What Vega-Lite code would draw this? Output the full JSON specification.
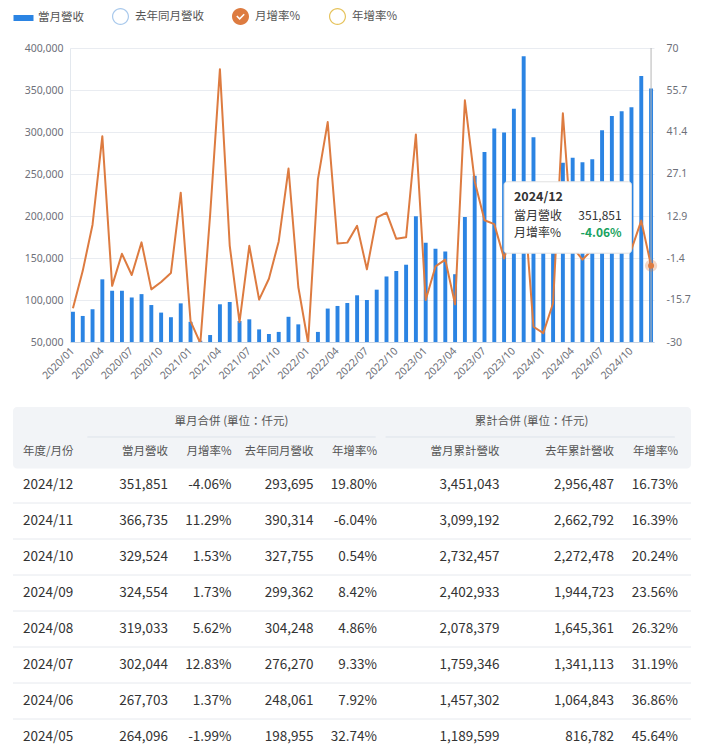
{
  "$schema": "https://vega.github.io/schema/vega-lite/v6.json",
  "background": "white",
  "padding": {"left": 12, "top": 8, "right": 0, "bottom": 0},
  "spacing": 25,
  "config": {
    "view": {"stroke": null},
    "font": "Noto Sans CJK TC",
    "locale": {"number": {"decimal": ".", "thousands": ",", "grouping": [3], "currency": ["$", ""], "minus": "-"}},
    "axis": {"labelFont": "Noto Sans", "labelFontSize": 10.5, "labelColor": "#6e7079"},
    "text": {"font": "Noto Sans CJK TC"}
  },
  "datasets": {
    "monthly": [
      {"month": "2020/01", "rev": 86000, "mom": -18.5},
      {"month": "2020/02", "rev": 81000, "mom": -5.8},
      {"month": "2020/03", "rev": 89000, "mom": 9.9},
      {"month": "2020/04", "rev": 124600, "mom": 40.0},
      {"month": "2020/05", "rev": 111000, "mom": -10.9},
      {"month": "2020/06", "rev": 111000, "mom": 0.0},
      {"month": "2020/07", "rev": 103000, "mom": -7.2},
      {"month": "2020/08", "rev": 107000, "mom": 3.9},
      {"month": "2020/09", "rev": 94000, "mom": -12.1},
      {"month": "2020/10", "rev": 85000, "mom": -9.6},
      {"month": "2020/11", "rev": 79500, "mom": -6.5},
      {"month": "2020/12", "rev": 96000, "mom": 20.8},
      {"month": "2021/01", "rev": 74000, "mom": -22.9},
      {"month": "2021/02", "rev": 51500, "mom": -30.4},
      {"month": "2021/03", "rev": 58300, "mom": 13.2},
      {"month": "2021/04", "rev": 94900, "mom": 62.8},
      {"month": "2021/05", "rev": 97600, "mom": 2.8},
      {"month": "2021/06", "rev": 75000, "mom": -23.2},
      {"month": "2021/07", "rev": 77000, "mom": 2.7},
      {"month": "2021/08", "rev": 65000, "mom": -15.6},
      {"month": "2021/09", "rev": 59500, "mom": -8.5},
      {"month": "2021/10", "rev": 62000, "mom": 4.2},
      {"month": "2021/11", "rev": 80000, "mom": 29.0},
      {"month": "2021/12", "rev": 71000, "mom": -11.3},
      {"month": "2022/01", "rev": 49500, "mom": -30.3},
      {"month": "2022/02", "rev": 62000, "mom": 25.3},
      {"month": "2022/03", "rev": 89800, "mom": 44.8},
      {"month": "2022/04", "rev": 92900, "mom": 3.5},
      {"month": "2022/05", "rev": 96400, "mom": 3.8},
      {"month": "2022/06", "rev": 105600, "mom": 9.5},
      {"month": "2022/07", "rev": 100000, "mom": -5.3},
      {"month": "2022/08", "rev": 112300, "mom": 12.3},
      {"month": "2022/09", "rev": 128000, "mom": 14.0},
      {"month": "2022/10", "rev": 134500, "mom": 5.1},
      {"month": "2022/11", "rev": 142000, "mom": 5.6},
      {"month": "2022/12", "rev": 199600, "mom": 40.6},
      {"month": "2023/01", "rev": 168300, "mom": -15.7},
      {"month": "2023/02", "rev": 161000, "mom": -4.3},
      {"month": "2023/03", "rev": 157800, "mom": -2.0},
      {"month": "2023/04", "rev": 130700, "mom": -17.2},
      {"month": "2023/05", "rev": 198955, "mom": 52.2},
      {"month": "2023/06", "rev": 248061, "mom": 24.7},
      {"month": "2023/07", "rev": 276270, "mom": 11.4},
      {"month": "2023/08", "rev": 304248, "mom": 10.1},
      {"month": "2023/09", "rev": 299362, "mom": -1.6},
      {"month": "2023/10", "rev": 327755, "mom": 9.5},
      {"month": "2023/11", "rev": 390314, "mom": 19.1},
      {"month": "2023/12", "rev": 293695, "mom": -24.8},
      {"month": "2024/01", "rev": 214300, "mom": -27.0},
      {"month": "2024/02", "rev": 178300, "mom": -16.8},
      {"month": "2024/03", "rev": 263445, "mom": 47.8},
      {"month": "2024/04", "rev": 269458, "mom": 2.3},
      {"month": "2024/05", "rev": 264096, "mom": -1.99},
      {"month": "2024/06", "rev": 267703, "mom": 1.37},
      {"month": "2024/07", "rev": 302044, "mom": 12.83},
      {"month": "2024/08", "rev": 319033, "mom": 5.62},
      {"month": "2024/09", "rev": 324554, "mom": 1.73},
      {"month": "2024/10", "rev": 329524, "mom": 1.53},
      {"month": "2024/11", "rev": 366735, "mom": 11.29},
      {"month": "2024/12", "rev": 351851, "mom": -4.06}
    ],
    "table": [
      {"r": 0, "month": "2024/12", "rev": 351851, "mom": -0.0406, "prev": 293695, "yoy": 0.198, "cum": 3451043, "prevcum": 2956487, "cumyoy": 0.1673},
      {"r": 1, "month": "2024/11", "rev": 366735, "mom": 0.1129, "prev": 390314, "yoy": -0.0604, "cum": 3099192, "prevcum": 2662792, "cumyoy": 0.1639},
      {"r": 2, "month": "2024/10", "rev": 329524, "mom": 0.0153, "prev": 327755, "yoy": 0.0054, "cum": 2732457, "prevcum": 2272478, "cumyoy": 0.2024},
      {"r": 3, "month": "2024/09", "rev": 324554, "mom": 0.0173, "prev": 299362, "yoy": 0.0842, "cum": 2402933, "prevcum": 1944723, "cumyoy": 0.2356},
      {"r": 4, "month": "2024/08", "rev": 319033, "mom": 0.0562, "prev": 304248, "yoy": 0.0486, "cum": 2078379, "prevcum": 1645361, "cumyoy": 0.2632},
      {"r": 5, "month": "2024/07", "rev": 302044, "mom": 0.1283, "prev": 276270, "yoy": 0.0933, "cum": 1759346, "prevcum": 1341113, "cumyoy": 0.3119},
      {"r": 6, "month": "2024/06", "rev": 267703, "mom": 0.0137, "prev": 248061, "yoy": 0.0792, "cum": 1457302, "prevcum": 1064843, "cumyoy": 0.3686},
      {"r": 7, "month": "2024/05", "rev": 264096, "mom": -0.0199, "prev": 198955, "yoy": 0.3274, "cum": 1189599, "prevcum": 816782, "cumyoy": 0.4564}
    ]
  },
  "vconcat": [
    {
      "width": 584,
      "height": 294,
      "data": {"name": "monthly"},
      "resolve": {"scale": {"y": "independent"}},
      "layer": [
        {
          "mark": {"type": "bar", "clip": true},
          "encoding": {
            "x": {
              "field": "month", "type": "ordinal", "title": null,
              "scale": {"paddingInner": 0.6, "paddingOuter": 0.1},
              "axis": {
                "values": ["2020/01","2020/04","2020/07","2020/10","2021/01","2021/04","2021/07","2021/10","2022/01","2022/04","2022/07","2022/10","2023/01","2023/04","2023/07","2023/10","2024/01","2024/04","2024/07","2024/10"],
                "labelAngle": -45, "labelAlign": "right", "labelBaseline": "middle", "labelPadding": 7,
                "labelColor": "#6e7079", "labelFont": "Noto Sans", "labelFontSize": 10.5,
                "ticks": false, "domainColor": "#c8d4e3", "grid": false
              }
            },
            "y": {
              "field": "rev", "type": "quantitative", "title": null,
              "scale": {"domain": [50000, 400000], "zero": false, "nice": false},
              "axis": {
                "values": [50000,100000,150000,200000,250000,300000,350000,400000],
                "format": ",d", "ticks": false, "domain": true, "domainColor": "#e3e8ee",
                "labelColor": "#6e7079",
                "labelPadding": 7, "grid": true, "gridColor": "#e9ecf1",
                "minExtent": 57, "maxExtent": 57
              }
            },
            "color": {
              "datum": "當月營收", "type": "nominal",
              "scale": {"domain": ["當月營收","去年同月營收","月增率%","年增率%"], "range": ["#2b84e3","#a9c9ec","#dd7b40","#e6c35c"]},
              "legend": {
                "orient": "none", "legendX": -55, "legendY": -40, "direction": "horizontal", "title": null,
                "symbolSize": 400, "labelOffset": 6, "columnPadding": 28,
                "labelFont": "Noto Sans CJK TC", "labelFontSize": 11.5, "labelColor": "#555",
                "encode": {
                  "symbols": {
                    "update": {
                      "shape": {"signal": "datum.value === '當月營收' ? 'M-1,-0.3H1V0.3H-1Z' : (datum.value === '月增率%' ? 'M-1,0A1,1,0,1,1,1,0A1,1,0,1,1,-1,0Z M-0.5,0L-0.1,0.4L0.5,-0.2L0.37,-0.33L-0.1,0.14L-0.37,-0.13Z' : 'M-1,0A1,1,0,1,1,1,0A1,1,0,1,1,-1,0Z M-0.86,0A0.86,0.86,0,1,0,0.86,0A0.86,0.86,0,1,0,-0.86,0Z')"},
                      "size": {"signal": "datum.value === '當月營收' ? 400 : 289"},
                      "stroke": {"value": "transparent"},
                      "strokeWidth": {"value": 0},
                      "opacity": {"value": 1}
                    }
                  }
                }
              }
            }
          }
        },
        {
          "layer": [
            {
              "mark": {"type": "line", "clip": true, "strokeWidth": 2, "strokeJoin": "round"},
              "encoding": {
                "x": {"field": "month", "type": "ordinal", "title": null},
                "y": {
                  "field": "mom", "type": "quantitative", "title": null,
                  "scale": {"domain": [-30, 70], "zero": false, "nice": false},
                  "axis": {
                    "orient": "right",
                    "values": [-30, -15.714, -1.429, 12.857, 27.143, 41.429, 55.714, 70],
                    "labelExpr": "round(datum.value*10)/10",
                    "labelColor": "#6e7079",
                    "ticks": false, "domain": false, "grid": false, "labelPadding": 12, "labelAlign": "left"
                  }
                },
                "color": {"datum": "月增率%", "type": "nominal"}
              }
            },
            {
              "data": {"values": [{}]},
              "mark": {"type": "rule", "color": "#b5b5b5", "strokeWidth": 1},
              "encoding": {"x": {"datum": "2024/12", "type": "ordinal"}}
            },
            {
              "transform": [{"filter": "datum.month === '2024/12'"}],
              "mark": {"type": "point", "filled": true, "size": 150, "color": "#dd7b40", "opacity": 0.3},
              "encoding": {"x": {"field": "month", "type": "ordinal", "title": null}, "y": {"field": "mom", "type": "quantitative"}}
            },
            {
              "transform": [{"filter": "datum.month === '2024/12'"}],
              "mark": {"type": "point", "filled": true, "size": 36, "color": "#dd7b40", "opacity": 1},
              "encoding": {"x": {"field": "month", "type": "ordinal", "title": null}, "y": {"field": "mom", "type": "quantitative"}}
            },
            {
              "data": {"values": [{}]},
              "mark": {"type": "rect", "fill": "white", "stroke": "#e2e2e2", "strokeWidth": 1, "cornerRadius": 3},
              "encoding": {
                "x": {"datum": "2023/09", "type": "ordinal", "bandPosition": 0.5},
                "x2": {"datum": "2024/10", "bandPosition": 0.5},
                "y": {"datum": 24.5, "type": "quantitative"},
                "y2": {"datum": 0.2}
              }
            },
            {
              "data": {"values": [{}]},
              "mark": {"type": "text", "align": "left", "baseline": "middle", "fontSize": 12.5, "fontWeight": "bold", "color": "#333"},
              "encoding": {"x": {"datum": "2023/10", "type": "ordinal"}, "y": {"datum": 19.2, "type": "quantitative"}, "text": {"value": "2024/12"}}
            },
            {
              "data": {"values": [{}]},
              "mark": {"type": "text", "align": "left", "baseline": "middle", "fontSize": 12, "color": "#333"},
              "encoding": {"x": {"datum": "2023/10", "type": "ordinal"}, "y": {"datum": 12.86, "type": "quantitative"}, "text": {"value": "當月營收"}}
            },
            {
              "data": {"values": [{}]},
              "mark": {"type": "text", "align": "right", "baseline": "middle", "fontSize": 12, "color": "#333"},
              "encoding": {"x": {"datum": "2024/09", "type": "ordinal"}, "y": {"datum": 12.86, "type": "quantitative"}, "text": {"value": "351,851"}}
            },
            {
              "data": {"values": [{}]},
              "mark": {"type": "text", "align": "left", "baseline": "middle", "fontSize": 12, "color": "#333"},
              "encoding": {"x": {"datum": "2023/10", "type": "ordinal"}, "y": {"datum": 7.18, "type": "quantitative"}, "text": {"value": "月增率%"}}
            },
            {
              "data": {"values": [{}]},
              "mark": {"type": "text", "align": "right", "baseline": "middle", "fontSize": 12, "fontWeight": "bold", "color": "#1aa260"},
              "encoding": {"x": {"datum": "2024/09", "type": "ordinal"}, "y": {"datum": 7.18, "type": "quantitative"}, "text": {"value": "-4.06%"}}
            }
          ]
        }
      ]
    },
    {
      "width": 621,
      "height": 350,
      "data": {"name": "table"},
      "resolve": {"scale": {"y": "independent"}},
      "layer": [
        {
          "mark": {"type": "rule", "color": "#e6e9ee", "strokeWidth": 1},
          "encoding": {
            "x": {"datum": -0.069, "type": "quantitative"},
            "x2": {"datum": 7.203},
            "y": {"field": "r", "type": "quantitative", "scale": {"domain": [-0.5, 6.5], "range": [78, 330], "zero": false, "nice": false}, "axis": null}
          }
        },
        {
          "layer": [
            {
              "data": {"values": [{}]},
              "mark": {"type": "rect", "fill": "#f2f4f7", "cornerRadius": 4},
              "encoding": {
                "x": {"datum": -0.069, "type": "quantitative", "scale": {"domain": [0,1,2,3,4,5,6,7], "range": [-47,98,161.5,243.5,307,429.5,544,608], "zero": false, "nice": false}, "axis": null},
                "x2": {"datum": 7.203},
                "y": {"datum": -2.5, "type": "quantitative", "scale": {"domain": [-2, -1, 0, 7], "range": [15, 45, 78, 330], "zero": false, "nice": false}, "axis": null},
                "y2": {"datum": -0.5}
              }
            },
            {
              "data": {"values": [{}]},
              "mark": {"type": "rule", "color": "#dde3ea", "strokeWidth": 1},
              "encoding": {"x": {"datum": 0.444, "type": "quantitative"}, "x2": {"datum": 3.98}, "y": {"datum": -1.5, "type": "quantitative"}}
            },
            {
              "data": {"values": [{}]},
              "mark": {"type": "rule", "color": "#dde3ea", "strokeWidth": 1},
              "encoding": {"x": {"datum": 4.07, "type": "quantitative"}, "x2": {"datum": 6.95}, "y": {"datum": -1.5, "type": "quantitative"}}
            },
            {
              "data": {"values": [{}]},
              "mark": {"type": "text", "align": "center", "baseline": "middle", "fontSize": 11.5, "color": "#555"},
              "encoding": {"x": {"datum": 2, "type": "quantitative"}, "y": {"datum": -2, "type": "quantitative"}, "text": {"value": "單月合併 (單位：仟元)"}}
            },
            {
              "data": {"values": [{}]},
              "mark": {"type": "text", "align": "center", "baseline": "middle", "fontSize": 11.5, "color": "#555"},
              "encoding": {"x": {"datum": 5.28, "type": "quantitative"}, "y": {"datum": -2, "type": "quantitative"}, "text": {"value": "累計合併 (單位：仟元)"}}
            },
            {
              "data": {"values": [{}]},
              "mark": {"type": "text", "align": "left", "baseline": "middle", "fontSize": 11.5, "color": "#555"},
              "encoding": {"x": {"datum": 0, "type": "quantitative"}, "y": {"datum": -1, "type": "quantitative"}, "text": {"value": "年度/月份"}}
            },
            {
              "data": {"values": [{}]},
              "mark": {"type": "text", "align": "right", "baseline": "middle", "fontSize": 11.5, "color": "#555"},
              "encoding": {"x": {"datum": 1, "type": "quantitative"}, "y": {"datum": -1, "type": "quantitative"}, "text": {"value": "當月營收"}}
            },
            {
              "data": {"values": [{}]},
              "mark": {"type": "text", "align": "right", "baseline": "middle", "fontSize": 11.5, "color": "#555"},
              "encoding": {"x": {"datum": 2, "type": "quantitative"}, "y": {"datum": -1, "type": "quantitative"}, "text": {"value": "月增率%"}}
            },
            {
              "data": {"values": [{}]},
              "mark": {"type": "text", "align": "right", "baseline": "middle", "fontSize": 11.5, "color": "#555"},
              "encoding": {"x": {"datum": 3, "type": "quantitative"}, "y": {"datum": -1, "type": "quantitative"}, "text": {"value": "去年同月營收"}}
            },
            {
              "data": {"values": [{}]},
              "mark": {"type": "text", "align": "right", "baseline": "middle", "fontSize": 11.5, "color": "#555"},
              "encoding": {"x": {"datum": 4, "type": "quantitative"}, "y": {"datum": -1, "type": "quantitative"}, "text": {"value": "年增率%"}}
            },
            {
              "data": {"values": [{}]},
              "mark": {"type": "text", "align": "right", "baseline": "middle", "fontSize": 11.5, "color": "#555"},
              "encoding": {"x": {"datum": 5, "type": "quantitative"}, "y": {"datum": -1, "type": "quantitative"}, "text": {"value": "當月累計營收"}}
            },
            {
              "data": {"values": [{}]},
              "mark": {"type": "text", "align": "right", "baseline": "middle", "fontSize": 11.5, "color": "#555"},
              "encoding": {"x": {"datum": 6, "type": "quantitative"}, "y": {"datum": -1, "type": "quantitative"}, "text": {"value": "去年累計營收"}}
            },
            {
              "data": {"values": [{}]},
              "mark": {"type": "text", "align": "right", "baseline": "middle", "fontSize": 11.5, "color": "#555"},
              "encoding": {"x": {"datum": 7, "type": "quantitative"}, "y": {"datum": -1, "type": "quantitative"}, "text": {"value": "年增率%"}}
            },
            {
              "mark": {"type": "text", "align": "left", "baseline": "middle", "fontSize": 13.5, "color": "#333"},
              "encoding": {"x": {"datum": 0, "type": "quantitative"}, "y": {"field": "r", "type": "quantitative"}, "text": {"field": "month", "type": "nominal"}}
            },
            {
              "mark": {"type": "text", "align": "right", "baseline": "middle", "fontSize": 13.5, "color": "#333"},
              "encoding": {"x": {"datum": 1, "type": "quantitative"}, "y": {"field": "r", "type": "quantitative"}, "text": {"field": "rev", "type": "quantitative", "format": ",d"}}
            },
            {
              "mark": {"type": "text", "align": "right", "baseline": "middle", "fontSize": 13.5, "color": "#333"},
              "encoding": {"x": {"datum": 2, "type": "quantitative"}, "y": {"field": "r", "type": "quantitative"}, "text": {"field": "mom", "type": "quantitative", "format": ".2%"}}
            },
            {
              "mark": {"type": "text", "align": "right", "baseline": "middle", "fontSize": 13.5, "color": "#333"},
              "encoding": {"x": {"datum": 3, "type": "quantitative"}, "y": {"field": "r", "type": "quantitative"}, "text": {"field": "prev", "type": "quantitative", "format": ",d"}}
            },
            {
              "mark": {"type": "text", "align": "right", "baseline": "middle", "fontSize": 13.5, "color": "#333"},
              "encoding": {"x": {"datum": 4, "type": "quantitative"}, "y": {"field": "r", "type": "quantitative"}, "text": {"field": "yoy", "type": "quantitative", "format": ".2%"}}
            },
            {
              "mark": {"type": "text", "align": "right", "baseline": "middle", "fontSize": 13.5, "color": "#333"},
              "encoding": {"x": {"datum": 5, "type": "quantitative"}, "y": {"field": "r", "type": "quantitative"}, "text": {"field": "cum", "type": "quantitative", "format": ",d"}}
            },
            {
              "mark": {"type": "text", "align": "right", "baseline": "middle", "fontSize": 13.5, "color": "#333"},
              "encoding": {"x": {"datum": 6, "type": "quantitative"}, "y": {"field": "r", "type": "quantitative"}, "text": {"field": "prevcum", "type": "quantitative", "format": ",d"}}
            },
            {
              "mark": {"type": "text", "align": "right", "baseline": "middle", "fontSize": 13.5, "color": "#333"},
              "encoding": {"x": {"datum": 7, "type": "quantitative"}, "y": {"field": "r", "type": "quantitative"}, "text": {"field": "cumyoy", "type": "quantitative", "format": ".2%"}}
            }
          ]
        }
      ]
    }
  ]
}
